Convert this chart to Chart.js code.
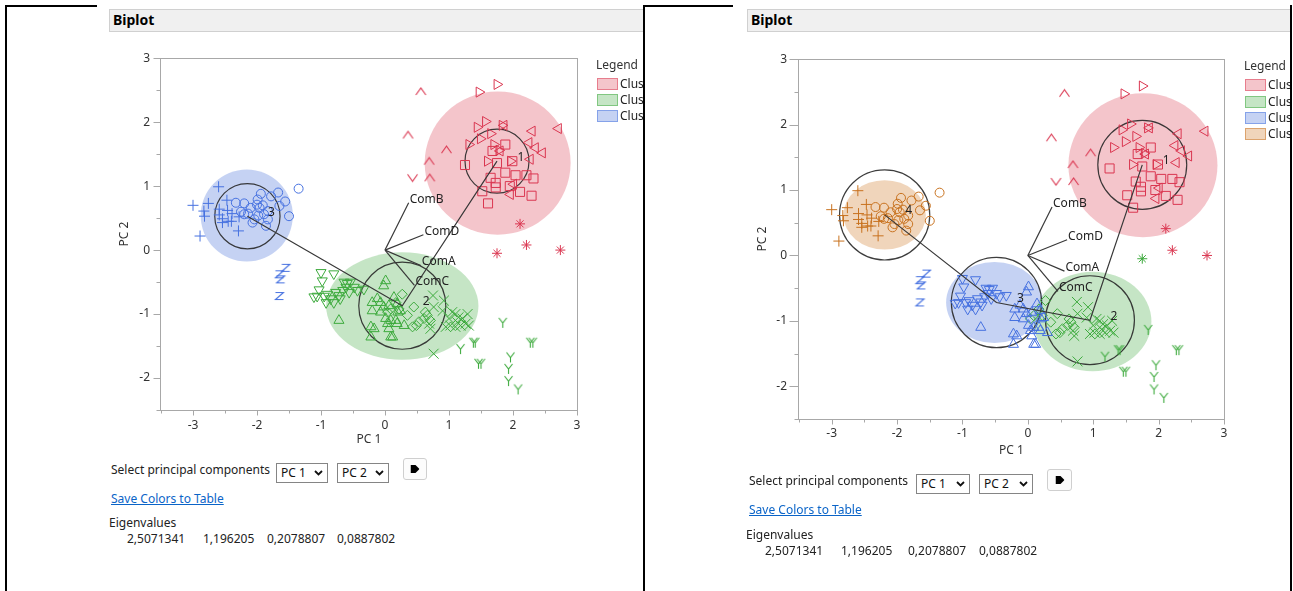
<!DOCTYPE html>
<html>
<head>
<meta charset="utf-8">
<title>Biplot</title>
<script src="https://cdn.jsdelivr.net/npm/chart.js@4.4.1/dist/chart.umd.min.js"></script>
<style>
  html, body { margin: 0; padding: 0; background: #fff; }
  body { width: 1293px; height: 591px; position: relative; overflow: hidden;
         font-family: 'Noto Sans', 'Open Sans', sans-serif; color: #222; }
  .rule { position: absolute; background: #000; }
  .hdr { position: absolute; top: 9px; height: 23px; box-sizing: border-box;
         background: #f0f0f0; border: 1px solid #d0d0d0; border-right: none;
         font-weight: bold; font-size: 14px; line-height: 20px; padding-left: 3px; color: #000; }
  .txt { position: absolute; font-size: 12px; line-height: 16px; white-space: nowrap; color: #222; }
  .link { color: #0a64c8; text-decoration: underline; }
  .sel { position: absolute; height: 20px; box-sizing: border-box; border: 1px solid #858585;
         background: #fff; font-size: 12px; line-height: 18px; padding-left: 4px; color: #111; }
  .sel svg { position: absolute; right: 4px; top: 6px; }
  .btn { position: absolute; box-sizing: border-box; border: 1px solid #cfcfcf; border-radius: 3px; background: #fcfcfc; }
  .btn svg { position: absolute; left: 50%; top: 50%; transform: translate(-50%, -50%); }
  .legend { position: absolute; overflow: hidden; }
  .legend .ttl { position: absolute; left: 0; top: 0; font-size: 12px; line-height: 15px; color: #333; white-space: nowrap; }
  .legend .row { position: absolute; left: 1px; height: 12px; white-space: nowrap; }
  .legend .sw { position: absolute; left: 0; top: 0; width: 21px; height: 12px; box-sizing: border-box; border: 1px solid; }
  .legend .lb { position: absolute; left: 23px; top: -2px; font-size: 12px; line-height: 15px; color: #222; }
  canvas { position: absolute; }
</style>
</head>
<body>

<!-- window frame -->
<div class="rule" style="left:5px;top:5px;width:92px;height:2px"></div>
<div class="rule" style="left:5px;top:5px;width:2px;height:586px"></div>
<div class="rule" style="left:643px;top:5px;width:90px;height:2px"></div>
<div class="rule" style="left:643px;top:5px;width:2px;height:586px"></div>
<div class="rule" style="left:1290px;top:5px;width:2px;height:586px"></div>

<div class="hdr" style="left:109px;width:534px">Biplot</div>
<div class="hdr" style="left:747px;width:543px">Biplot</div>

<canvas id="biplotK3" width="500" height="420" style="left:100px;top:40px"></canvas>
<canvas id="biplotK4" width="520" height="440" style="left:740px;top:40px"></canvas>

<div class="legend" id="legendK3" style="left:596px;top:57px;width:47px;height:80px"></div>
<div class="legend" id="legendK4" style="left:1244px;top:58px;width:46px;height:90px"></div>

<!-- controls under the 3-cluster plot -->
<div class="txt" style="left:111px;top:462px">Select principal components</div>
<div class="sel" style="left:276px;top:463px;width:52px">PC 1<svg width="9" height="6"><polyline points="1,1 4.5,4.5 8,1" fill="none" stroke="#111" stroke-width="1.8"/></svg></div>
<div class="sel" style="left:337px;top:463px;width:52px">PC 2<svg width="9" height="6"><polyline points="1,1 4.5,4.5 8,1" fill="none" stroke="#111" stroke-width="1.8"/></svg></div>
<div class="btn" style="left:403px;top:458px;width:24px;height:22px"><svg width="9" height="10"><polygon points="0,1 5,1 9,5 5,9 0,9" fill="#000"/></svg></div>
<div class="txt link" style="left:111px;top:491px">Save Colors to Table</div>
<div class="txt" style="left:109px;top:515px">Eigenvalues</div>
<div id="eigK3"></div>

<!-- controls under the 4-cluster plot -->
<div class="txt" style="left:749px;top:473px">Select principal components</div>
<div class="sel" style="left:916px;top:474px;width:54px">PC 1<svg width="9" height="6"><polyline points="1,1 4.5,4.5 8,1" fill="none" stroke="#111" stroke-width="1.8"/></svg></div>
<div class="sel" style="left:979px;top:474px;width:54px">PC 2<svg width="9" height="6"><polyline points="1,1 4.5,4.5 8,1" fill="none" stroke="#111" stroke-width="1.8"/></svg></div>
<div class="btn" style="left:1047px;top:469px;width:25px;height:22px"><svg width="9" height="10"><polygon points="0,1 5,1 9,5 5,9 0,9" fill="#000"/></svg></div>
<div class="txt link" style="left:749px;top:502px">Save Colors to Table</div>
<div class="txt" style="left:746px;top:527px">Eigenvalues</div>
<div id="eigK4"></div>

<script>
// ---------- principal component scores (PC 1, PC 2), one array per marker ----------
const plusPts = [[-2.60,0.99],[-3.00,0.70],[-2.76,0.73],[-2.83,0.61],[-2.82,0.53],[-2.47,0.78],[-2.59,0.64],[-2.59,0.55],[-2.54,0.43],[-2.45,0.45],[-2.40,0.45],[-2.46,0.62],[-2.29,0.30],[-2.89,0.22],[-2.28,0.52],[-2.39,0.57],[-2.54,0.49]];
const circlePts = [[-2.33,0.74],[-2.20,0.73],[-2.10,0.66],[-1.99,0.79],[-2.00,0.71],[-1.94,0.88],[-1.78,0.84],[-1.67,0.90],[-1.56,0.76],[-1.65,0.69],[-1.83,0.61],[-1.89,0.56],[-1.98,0.54],[-2.04,0.48],[-2.07,0.43],[-1.83,0.48],[-1.86,0.38],[-1.50,0.53],[-1.35,0.96],[-2.20,0.56],[-2.14,0.57],[-2.25,0.60],[-1.96,0.66],[-1.91,0.70]];
const zeePts = [[-1.55,-0.27],[-1.65,-0.37],[-1.63,-0.45],[-1.65,-0.71]];
const triDownPts = [[-1.00,-0.35],[-0.80,-0.37],[-0.98,-0.48],[-1.11,-0.73],[-1.06,-0.72],[-0.95,-0.72],[-0.90,-0.69],[-0.85,-0.76],[-0.80,-0.82],[-0.72,-0.71],[-0.66,-0.63],[-0.64,-0.50],[-0.59,-0.52],[-0.54,-0.50],[-0.48,-0.58],[-0.43,-0.63],[-0.33,-0.61],[-1.03,-0.62],[-0.77,-0.66],[-0.70,-0.76],[-0.56,-0.66],[-0.92,-0.82],[-0.61,-0.58]];
const triUpPts = [[0.01,-0.48],[-0.02,-0.56],[-0.12,-0.76],[-0.20,-0.82],[-0.07,-0.82],[-0.02,-0.89],[0.06,-0.87],[0.19,-0.84],[-0.20,-0.95],[-0.07,-0.97],[0.01,-1.07],[0.09,-1.10],[0.19,-1.15],[-0.22,-1.20],[-0.17,-1.23],[0.06,-1.23],[-0.22,-1.36],[0.09,-1.36],[0.20,-0.97],[0.14,-0.74],[-0.72,-1.10],[0.04,-1.15],[0.12,-1.36],[0.17,-1.10],[0.24,-0.95],[0.30,-1.18]];
const diamondPts = [[0.27,-0.69],[0.17,-0.82],[0.22,-0.92],[0.45,-0.89],[0.43,-1.20],[0.49,-1.18],[0.61,-1.07],[0.66,-1.02],[0.71,-1.10],[0.63,-0.97],[0.09,-0.92],[0.04,-0.97],[0.35,-1.02],[0.53,-1.12]];
const crossPts = [[0.75,-0.71],[0.92,-0.79],[0.76,-0.89],[0.90,-0.95],[0.95,-1.20],[1.02,-1.18],[1.05,-0.97],[1.10,-1.00],[1.15,-1.05],[1.13,-1.13],[1.10,-1.20],[1.21,-1.07],[1.26,-1.15],[1.29,-1.00],[1.31,-1.18],[0.76,-1.62],[0.69,-1.15],[0.71,-1.23],[1.18,-1.18],[1.00,-1.07]];
const wyePts = [[1.84,-1.13],[1.18,-1.54],[1.38,-1.44],[1.41,-1.44],[1.46,-1.77],[1.50,-1.77],[1.96,-1.67],[1.93,-1.85],[1.93,-2.04],[2.08,-2.17],[2.27,-1.44],[2.31,-1.44]];
const caretUpPts = [[0.56,2.48],[0.36,1.80],[0.96,1.57],[0.69,1.39],[0.70,1.13]];
const caretDownPts = [[0.43,1.13]];
const triRightPts = [[1.75,2.59],[1.47,2.47],[1.57,2.01],[1.44,1.92],[1.83,1.95],[1.49,1.74],[1.65,1.82],[1.31,1.65],[1.70,1.65],[1.60,1.39],[1.96,1.39],[1.78,1.56]];
const triLeftPts = [[2.71,1.90],[2.30,1.86],[2.25,1.68],[2.35,1.60],[2.46,1.52],[2.27,1.42],[2.01,1.03],[1.96,0.87],[1.86,1.95],[1.80,1.55]];
const squarePts = [[1.88,1.65],[1.68,1.55],[1.75,1.36],[1.25,1.33],[1.99,1.39],[1.88,1.21],[2.04,1.17],[2.21,1.17],[2.32,1.12],[1.65,1.13],[1.73,1.05],[1.73,0.98],[1.52,0.92],[2.11,0.91],[2.29,0.85],[1.61,0.73],[1.95,1.00]];
const starPts = [[2.11,0.41],[2.21,0.08],[1.75,-0.05],[2.74,0.00]];

// ---------- variable loadings (biplot rays) ----------
const loadNames = ['ComA', 'ComB', 'ComC', 'ComD'];
const loadX = [0.56, 0.37, 0.46, 0.60];
const loadY = [-0.24, 0.74, -0.55, 0.24];

// ---------- axes ----------
const axisMin = { x: -3.5, y: -2.5 };
const axisMax = { x: 3, y: 3 };
const tickValues = [-3, -2, -1, 0, 1, 2, 3];

// ---------- eigenvalues ----------
const eigenvalues = ['2,5071341', '1,196205', '0,2078807', '0,0887802'];

// ---------- 3-cluster fit ----------
const k3Ids = [1, 2, 3];
const k3CenterX = [1.75, 0.27, -2.15];
const k3CenterY = [1.39, -0.87, 0.53];
const k3CircleR = [0.50, 0.68, 0.51];
const k3EllX = [1.76, 0.27, -2.16];
const k3EllY = [1.36, -0.875, 0.54];
const k3EllRx = [1.14, 1.19, 0.72];
const k3EllRy = [1.12, 0.84, 0.72];
const k3Path = [3, 2, 1];
const k3Member = { plus: 3, circle: 3, zee: 3, triDown: 2, triUp: 2, diamond: 2, cross: 2, wye: 2,
                   caretUp: 1, caretDown: 1, triRight: 1, triLeft: 1, square: 1, star: 1 };

// ---------- 4-cluster fit ----------
const k4Ids = [1, 2, 3, 4];
const k4CenterX = [1.75, 0.95, -0.48, -2.19];
const k4CenterY = [1.385, -0.99, -0.72, 0.62];
const k4CircleR = [0.68, 0.68, 0.69, 0.69];
const k4EllX = [1.76, 0.99, -0.51, -2.19];
const k4EllY = [1.38, -1.01, -0.72, 0.62];
const k4EllRx = [1.14, 0.90, 0.74, 0.63];
const k4EllRy = [1.10, 0.76, 0.62, 0.53];
const k4Path = [4, 3, 2, 1];
const k4Member = { plus: 4, circle: 4, zee: 3, triDown: 3, triUp: 3, diamond: 2, cross: 2, wye: 2,
                   caretUp: 1, caretDown: 1, triRight: 1, triLeft: 1, square: 1, star: [1, 1, 2, 1] };

// ---------- styling ----------
const clusterInk = { 1: '#DA3650', 2: '#3DAA3D', 3: '#4671E0', 4: '#C8721F' };
const clusterFill = { 1: 'rgba(224,90,106,0.35)', 2: 'rgba(90,180,90,0.35)',
                      3: 'rgba(90,125,222,0.35)', 4: 'rgba(212,135,60,0.35)' };
const frameColor = '#a8a8a8';

Chart.defaults.font.family = "'Noto Sans', 'Open Sans', sans-serif";
Chart.defaults.font.size = 12;
Chart.defaults.color = '#333';

// small stroked glyphs for markers that Chart.js has no built-in style for
function glyph(kind, color) {
  const c = document.createElement('canvas');
  c.width = 13; c.height = 13;
  const g = c.getContext('2d');
  g.strokeStyle = color; g.lineWidth = 1.1;
  g.beginPath();
  if (kind === 'caretUp') { g.moveTo(1.5, 10); g.lineTo(6.5, 3); g.lineTo(11.5, 10); }
  else if (kind === 'caretDown') { g.moveTo(1.5, 3); g.lineTo(6.5, 10); g.lineTo(11.5, 3); }
  else if (kind === 'zee') { g.moveTo(2.5, 3.5); g.lineTo(10.5, 3.5); g.lineTo(2.5, 10.5); g.lineTo(10.5, 10.5); }
  else if (kind === 'wye') { g.moveTo(2.5, 2); g.lineTo(6.5, 7); g.lineTo(10.5, 2); g.moveTo(6.5, 7); g.lineTo(6.5, 12); }
  g.stroke();
  return c;
}

const markerGroups = [
  { key: 'plus', pts: plusPts, style: 'cross', r: 5.5 },
  { key: 'circle', pts: circlePts, style: 'circle', r: 4.5 },
  { key: 'zee', pts: zeePts, glyph: 'zee' },
  { key: 'triDown', pts: triDownPts, style: 'triangle', r: 5.8, rot: 180 },
  { key: 'triUp', pts: triUpPts, style: 'triangle', r: 5.8, rot: 0 },
  { key: 'diamond', pts: diamondPts, style: 'rectRot', r: 5 },
  { key: 'cross', pts: crossPts, style: 'crossRot', r: 7 },
  { key: 'wye', pts: wyePts, glyph: 'wye' },
  { key: 'caretUp', pts: caretUpPts, glyph: 'caretUp' },
  { key: 'caretDown', pts: caretDownPts, glyph: 'caretDown' },
  { key: 'triRight', pts: triRightPts, style: 'triangle', r: 5.8, rot: 90 },
  { key: 'triLeft', pts: triLeftPts, style: 'triangle', r: 5.8, rot: 270 },
  { key: 'square', pts: squarePts, style: 'rect', r: 6.4 },
  { key: 'star', pts: starPts, style: 'star', r: 5 }
];

function pointDatasets(member) {
  const sets = [];
  markerGroups.forEach(g => {
    const byCluster = {};
    g.pts.forEach((p, i) => {
      const m = member[g.key];
      const k = Array.isArray(m) ? m[i] : m;
      (byCluster[k] = byCluster[k] || []).push({ x: p[0], y: p[1] });
    });
    Object.keys(byCluster).forEach(k => {
      const col = clusterInk[k];
      const ds = { label: g.key + ' ' + k, data: byCluster[k], order: 2,
                   pointBorderColor: col, pointBackgroundColor: 'rgba(0,0,0,0)', pointBorderWidth: 1 };
      if (g.glyph) { ds.pointStyle = glyph(g.glyph, col); ds.pointRadius = 5; }
      else { ds.pointStyle = g.style; ds.pointRadius = g.r; ds.pointRotation = g.rot || 0; }
      sets.push(ds);
    });
  });
  return sets;
}

function lineDatasets(fit) {
  const sets = loadNames.map((n, i) => ({
    label: n, data: [{ x: 0, y: 0 }, { x: loadX[i], y: loadY[i] }],
    showLine: true, pointRadius: 0, borderColor: '#383838', borderWidth: 1.2, order: 0
  }));
  sets.push({
    label: 'centers', order: 0, showLine: true, pointRadius: 0, borderColor: '#383838', borderWidth: 1.2,
    data: fit.path.map(id => { const i = fit.ids.indexOf(id); return { x: fit.cx[i], y: fit.cy[i] }; })
  });
  return sets;
}

function makeDecor(fit, geo) {
  return {
    id: 'biplotDecor',
    beforeDatasetsDraw(chart) {
      const { ctx, chartArea: a, scales: { x, y } } = chart;
      ctx.save();
      ctx.beginPath(); ctx.rect(a.left, a.top, a.right - a.left, a.bottom - a.top); ctx.clip();
      fit.ids.forEach((id, i) => {
        const px = x.getPixelForValue(fit.ex[i]), py = y.getPixelForValue(fit.ey[i]);
        const rx = Math.abs(x.getPixelForValue(fit.ex[i] + fit.erx[i]) - px);
        const ry = Math.abs(y.getPixelForValue(fit.ey[i] + fit.ery[i]) - py);
        ctx.beginPath(); ctx.ellipse(px, py, rx, ry, 0, 0, Math.PI * 2);
        ctx.fillStyle = clusterFill[id]; ctx.fill();
      });
      ctx.strokeStyle = 'rgba(40,40,40,0.9)'; ctx.lineWidth = 1.2;
      fit.ids.forEach((id, i) => {
        const px = x.getPixelForValue(fit.cx[i]), py = y.getPixelForValue(fit.cy[i]);
        const r = Math.abs(x.getPixelForValue(fit.cx[i] + fit.r[i]) - px);
        ctx.beginPath(); ctx.arc(px, py, r, 0, Math.PI * 2); ctx.stroke();
      });
      ctx.restore();
    },
    afterDatasetsDraw(chart) {
      const { ctx, scales: { x, y } } = chart;
      ctx.save();
      ctx.font = "12px 'Noto Sans', sans-serif";
      ctx.fillStyle = '#222';
      ctx.textAlign = 'left'; ctx.textBaseline = 'alphabetic';
      loadNames.forEach((n, i) => {
        ctx.fillText(n, x.getPixelForValue(loadX[i]) + 1, y.getPixelForValue(loadY[i]));
      });
      ctx.textAlign = 'center'; ctx.textBaseline = 'middle';
      fit.ids.forEach((id, i) => {
        ctx.fillText(String(id), x.getPixelForValue(fit.cx[i]) + 24, y.getPixelForValue(fit.cy[i]) - 4);
      });
      ctx.restore();
    },
    afterDraw(chart) {
      const { ctx, chartArea: a, scales: { x, y } } = chart;
      ctx.save();
      ctx.strokeStyle = frameColor; ctx.lineWidth = 1;
      const L = Math.round(a.left) - 0.5, R = Math.round(a.right) + 0.5;
      const T = Math.round(a.top) + 0.5, B = Math.round(a.bottom) + 0.5;
      ctx.strokeRect(L, T, R - L, B - T);
      ctx.beginPath();
      for (let v = axisMin.x; v <= axisMax.x + 1e-9; v += 0.5) {
        const px = Math.round(x.getPixelForValue(v)) + 0.5;
        const len = Number.isInteger(v) ? geo.xMajor : geo.xMinor;
        ctx.moveTo(px, B); ctx.lineTo(px, B + len);
      }
      for (let v = axisMin.y; v <= axisMax.y + 1e-9; v += 0.5) {
        const py = Math.round(y.getPixelForValue(v)) + 0.5;
        const len = Number.isInteger(v) ? geo.yMajor : geo.yMinor;
        ctx.moveTo(L, py); ctx.lineTo(L - len, py);
      }
      ctx.stroke();
      ctx.restore();
    }
  };
}

function buildBiplot(canvasId, fit, member, geo) {
  const tickLabel = v => tickValues.includes(v) ? String(v) : '';
  return new Chart(document.getElementById(canvasId), {
    type: 'scatter',
    data: { datasets: lineDatasets(fit).concat(pointDatasets(member)) },
    options: {
      responsive: false, animation: false, events: [],
      layout: { padding: geo.pad },
      plugins: { legend: { display: false }, tooltip: { enabled: false } },
      scales: {
        x: {
          type: 'linear', min: axisMin.x, max: axisMax.x,
          grid: { display: false, drawTicks: false }, border: { display: false },
          ticks: { stepSize: 0.5, autoSkip: false, maxRotation: 0, padding: geo.xTickPad, color: '#333', callback: tickLabel },
          title: { display: true, text: 'PC 1', color: '#333', font: { size: 12 }, padding: { top: 0, bottom: geo.xTitlePad } },
          afterFit: s => { s.height = geo.xHeight; }
        },
        y: {
          type: 'linear', min: axisMin.y, max: axisMax.y,
          grid: { display: false, drawTicks: false }, border: { display: false },
          ticks: { stepSize: 0.5, autoSkip: false, padding: geo.yTickPad, color: '#333', callback: tickLabel },
          title: { display: true, text: 'PC 2', color: '#333', font: { size: 12 }, padding: { top: geo.yTitlePad, bottom: 0 } },
          afterFit: s => { s.width = geo.yWidth; }
        }
      }
    },
    plugins: [makeDecor(fit, geo)]
  });
}

const fitK3 = { ids: k3Ids, cx: k3CenterX, cy: k3CenterY, r: k3CircleR, ex: k3EllX, ey: k3EllY, erx: k3EllRx, ery: k3EllRy, path: k3Path };
const fitK4 = { ids: k4Ids, cx: k4CenterX, cy: k4CenterY, r: k4CircleR, ex: k4EllX, ey: k4EllY, erx: k4EllRx, ery: k4EllRy, path: k4Path };

buildBiplot('biplotK3', fitK3, k3Member, {
  pad: { left: 0, top: 17, right: 23, bottom: 0 }, yWidth: 61, xHeight: 50,
  xTickPad: 8, yTickPad: 11, xTitlePad: 13, yTitlePad: 17,
  xMajor: 5, xMinor: 3, yMajor: 7, yMinor: 4
});
buildBiplot('biplotK4', fitK4, k4Member, {
  pad: { left: 0, top: 18, right: 36, bottom: 0 }, yWidth: 59, xHeight: 61,
  xTickPad: 7, yTickPad: 12, xTitlePad: 22, yTitlePad: 15,
  xMajor: 5, xMinor: 3, yMajor: 9, yMinor: 4
});

// legends and eigenvalue rows
function buildLegend(elId, ids, rowTops) {
  const el = document.getElementById(elId);
  const t = document.createElement('div'); t.className = 'ttl'; t.textContent = 'Legend'; el.appendChild(t);
  ids.forEach((id, i) => {
    const row = document.createElement('div'); row.className = 'row'; row.style.top = rowTops[i] + 'px';
    const sw = document.createElement('div'); sw.className = 'sw';
    sw.style.background = clusterFill[id]; sw.style.borderColor = clusterInk[id] + '80';
    const lb = document.createElement('div'); lb.className = 'lb'; lb.textContent = 'Cluster ' + id;
    row.appendChild(sw); row.appendChild(lb); el.appendChild(row);
  });
}
buildLegend('legendK3', k3Ids, [21, 37, 53]);
buildLegend('legendK4', k4Ids, [21, 38, 54, 70]);

function buildEigen(elId, lefts, top) {
  const el = document.getElementById(elId);
  eigenvalues.forEach((v, i) => {
    const d = document.createElement('div'); d.className = 'txt';
    d.style.left = lefts[i] + 'px'; d.style.top = top + 'px'; d.textContent = v;
    el.appendChild(d);
  });
}
buildEigen('eigK3', [127, 203, 267, 337], 531);
buildEigen('eigK4', [765, 841, 908, 979], 543);
</script>
</body>
</html>
